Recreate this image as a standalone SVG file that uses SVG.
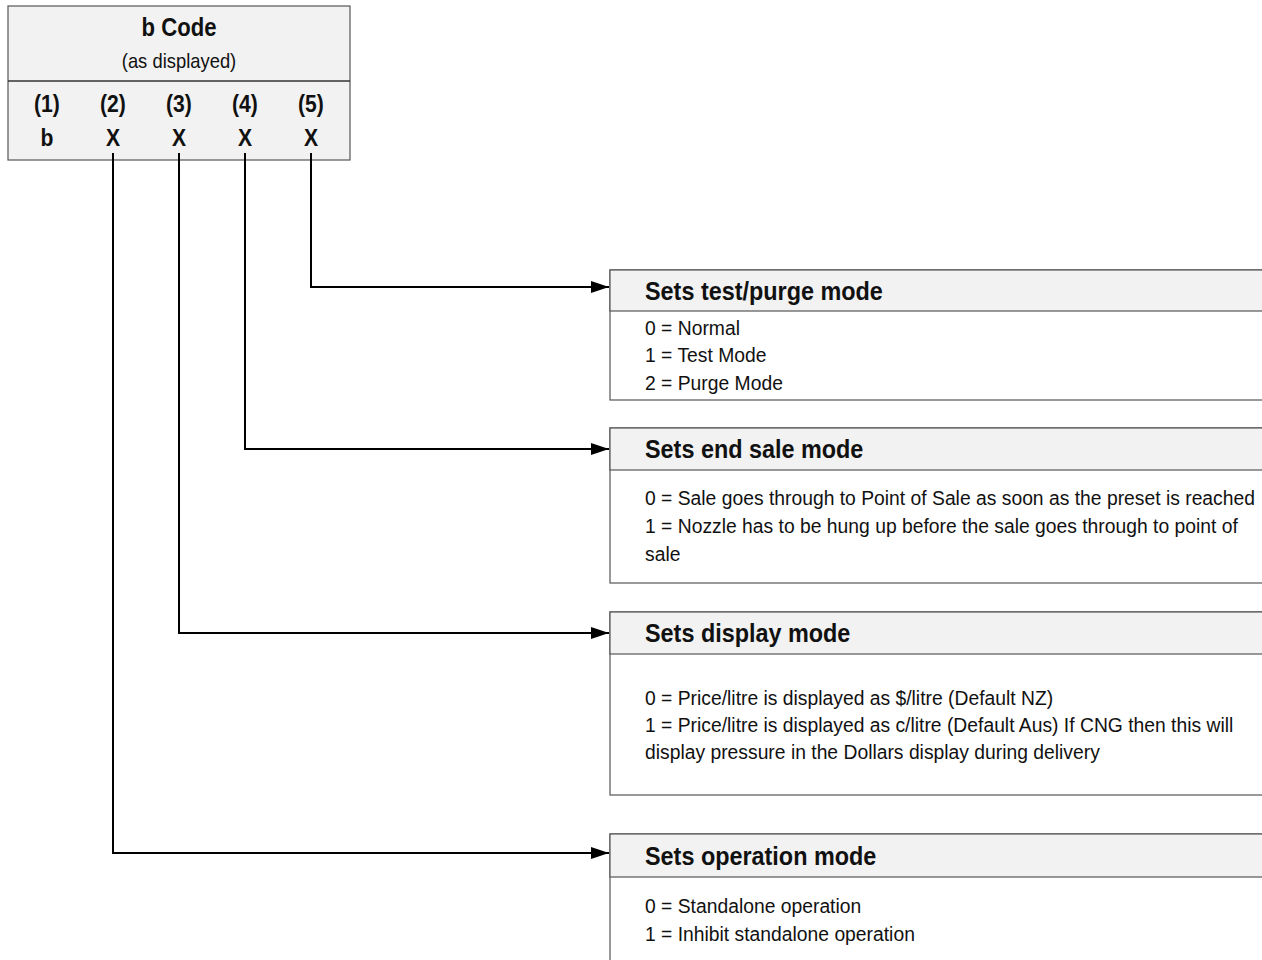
<svg xmlns="http://www.w3.org/2000/svg" width="1262" height="960" viewBox="0 0 1262 960">
<defs>
<marker id="arr" viewBox="0 0 18 12" refX="18" refY="6" markerWidth="18" markerHeight="12" markerUnits="userSpaceOnUse" orient="auto">
<path d="M0,0 L18,6 L0,12 z" fill="#000"/>
</marker>
<style>
.box{fill:#f2f2f2;stroke:#555;stroke-width:1.2}
.body{fill:#fff;stroke:#555;stroke-width:1.2}
.div{stroke:#333;stroke-width:1.5}
.t{font-family:"Liberation Sans Narrow","Liberation Sans",Arial,sans-serif;fill:#111}
.h{font-size:26px;font-weight:bold}
.n{font-size:21px}
.c{font-size:24px;font-weight:bold;text-anchor:middle}
.conn{fill:none;stroke:#000;stroke-width:2}
</style>
</defs>
<rect width="1262" height="960" fill="#fff"/>
<g id="bcode">
<rect class="box" x="8" y="6" width="342" height="154"/>
<line class="div" x1="8" y1="81" x2="350" y2="81"/>
<text class="t" transform="translate(179,36) scale(0.85,1)" font-size="26" font-weight="bold" text-anchor="middle">b Code</text>
<text class="t" transform="translate(179,68) scale(0.92,1)" font-size="20" text-anchor="middle">(as displayed)</text>
<text class="t c" transform="translate(47,112) scale(0.88,1)">(1)</text>
<text class="t c" transform="translate(113,112) scale(0.88,1)">(2)</text>
<text class="t c" transform="translate(179,112) scale(0.88,1)">(3)</text>
<text class="t c" transform="translate(245,112) scale(0.88,1)">(4)</text>
<text class="t c" transform="translate(311,112) scale(0.88,1)">(5)</text>
<text class="t c" transform="translate(47,146) scale(0.88,1)">b</text>
<text class="t c" transform="translate(113,146) scale(0.88,1)">X</text>
<text class="t c" transform="translate(179,146) scale(0.88,1)">X</text>
<text class="t c" transform="translate(245,146) scale(0.88,1)">X</text>
<text class="t c" transform="translate(311,146) scale(0.88,1)">X</text>
</g>
<g id="connectors">
<path class="conn" d="M311,153 V287 H609" marker-end="url(#arr)"/>
<path class="conn" d="M245,153 V449 H609" marker-end="url(#arr)"/>
<path class="conn" d="M179,153 V633 H609" marker-end="url(#arr)"/>
<path class="conn" d="M113,153 V853 H609" marker-end="url(#arr)"/>
</g>
<g id="test-purge">
<rect class="body" x="610" y="270" width="660" height="130"/>
<rect class="box" x="610" y="270" width="660" height="41"/>
<text class="t h" transform="translate(645,300) scale(0.9,1)">Sets test/purge mode</text>
<text class="t n" transform="translate(645,335) scale(0.92,1)">0 = Normal</text>
<text class="t n" transform="translate(645,362) scale(0.92,1)">1 = Test Mode</text>
<text class="t n" transform="translate(645,390) scale(0.92,1)">2 = Purge Mode</text>
</g>
<g id="end-sale">
<rect class="body" x="610" y="428" width="660" height="155"/>
<rect class="box" x="610" y="428" width="660" height="42"/>
<text class="t h" transform="translate(645,458) scale(0.9,1)">Sets end sale mode</text>
<text class="t n" transform="translate(645,505) scale(0.92,1)">0 = Sale goes through to Point of Sale as soon as the preset is reached</text>
<text class="t n" transform="translate(645,533) scale(0.92,1)">1 = Nozzle has to be hung up before the sale goes through to point of</text>
<text class="t n" transform="translate(645,561) scale(0.92,1)">sale</text>
</g>
<g id="display">
<rect class="body" x="610" y="612" width="660" height="183"/>
<rect class="box" x="610" y="612" width="660" height="42"/>
<text class="t h" transform="translate(645,642) scale(0.9,1)">Sets display mode</text>
<text class="t n" transform="translate(645,705) scale(0.92,1)">0 = Price/litre is displayed as $/litre (Default NZ)</text>
<text class="t n" transform="translate(645,732) scale(0.92,1)">1 = Price/litre is displayed as c/litre (Default Aus) If CNG then this will</text>
<text class="t n" transform="translate(645,759) scale(0.92,1)">display pressure in the Dollars display during delivery</text>
</g>
<g id="operation">
<rect class="body" x="610" y="834" width="660" height="140"/>
<rect class="box" x="610" y="834" width="660" height="43"/>
<text class="t h" transform="translate(645,865) scale(0.9,1)">Sets operation mode</text>
<text class="t n" transform="translate(645,913) scale(0.92,1)">0 = Standalone operation</text>
<text class="t n" transform="translate(645,941) scale(0.92,1)">1 = Inhibit standalone operation</text>
</g>
</svg>
